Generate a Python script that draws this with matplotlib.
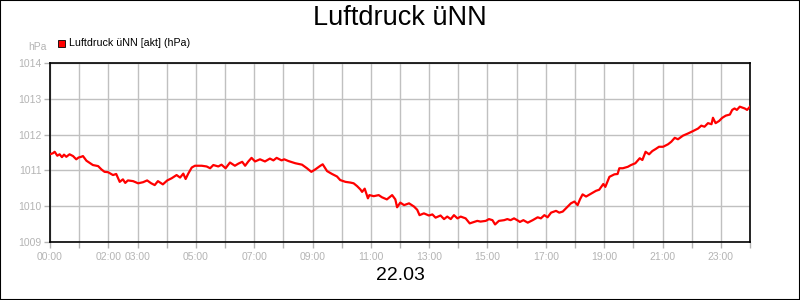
import matplotlib
matplotlib.use("Agg")
import matplotlib.pyplot as plt
from matplotlib.patches import Rectangle

plt.rcParams['font.family'] = ['Liberation Sans', 'DejaVu Sans']

# ---- data ----
hours = [0.00, 0.10, 0.16, 0.25, 0.33, 0.41, 0.48, 0.56, 0.67, 0.79,
         0.90, 0.98, 1.07, 1.13, 1.25, 1.36, 1.47, 1.65, 1.76, 1.87,
         1.99, 2.16, 2.27, 2.39, 2.50, 2.58, 2.67, 2.85, 3.02, 3.19,
         3.33, 3.47, 3.59, 3.70, 3.87, 4.02, 4.17, 4.34, 4.46, 4.57,
         4.65, 4.74, 4.86, 4.97, 5.20, 5.37, 5.49, 5.60, 5.77, 5.88,
         6.02, 6.17, 6.34, 6.46, 6.59, 6.69, 6.80, 6.91, 7.03, 7.20,
         7.37, 7.54, 7.66, 7.77, 7.94, 8.03, 8.18, 8.41, 8.64, 8.81,
         8.96, 9.10, 9.27, 9.35, 9.50, 9.67, 9.84, 9.95, 10.13, 10.30,
         10.41, 10.53, 10.64, 10.70, 10.79, 10.90, 10.95, 11.10, 11.27, 11.38,
         11.55, 11.73, 11.84, 11.90, 12.01, 12.14, 12.31, 12.48, 12.59, 12.67,
         12.82, 12.99, 13.11, 13.22, 13.39, 13.51, 13.62, 13.74, 13.85, 13.97,
         14.08, 14.25, 14.39, 14.50, 14.65, 14.76, 14.94, 15.05, 15.17, 15.26,
         15.39, 15.57, 15.68, 15.79, 15.91, 16.06, 16.11, 16.23, 16.38, 16.55,
         16.72, 16.83, 16.95, 17.06, 17.18, 17.35, 17.46, 17.58, 17.69, 17.86,
         17.98, 18.09, 18.17, 18.26, 18.38, 18.55, 18.72, 18.83, 18.97, 19.04,
         19.18, 19.35, 19.46, 19.52, 19.64, 19.81, 19.92, 20.07, 20.22, 20.31,
         20.42, 20.54, 20.65, 20.77, 20.88, 21.02, 21.19, 21.30, 21.42, 21.53,
         21.70, 21.87, 22.05, 22.22, 22.33, 22.44, 22.56, 22.68, 22.73, 22.82,
         22.94, 23.05, 23.17, 23.31, 23.39, 23.47, 23.55, 23.65, 23.82, 23.90,
         24.00]
pressure = [1011.45, 1011.48, 1011.52, 1011.41, 1011.45, 1011.37, 1011.44, 1011.38, 1011.45, 1011.40,
            1011.31, 1011.36, 1011.38, 1011.40, 1011.27, 1011.21, 1011.15, 1011.12, 1011.03, 1010.96,
            1010.95, 1010.87, 1010.90, 1010.68, 1010.75, 1010.65, 1010.72, 1010.70, 1010.64, 1010.67,
            1010.72, 1010.64, 1010.59, 1010.70, 1010.61, 1010.72, 1010.78, 1010.87, 1010.80, 1010.91,
            1010.76, 1010.91, 1011.08, 1011.13, 1011.13, 1011.11, 1011.06, 1011.15, 1011.11, 1011.16,
            1011.06, 1011.22, 1011.13, 1011.19, 1011.24, 1011.13, 1011.25, 1011.35, 1011.25, 1011.31,
            1011.25, 1011.33, 1011.28, 1011.35, 1011.28, 1011.31, 1011.26, 1011.20, 1011.16, 1011.06,
            1010.96, 1011.03, 1011.13, 1011.17, 1010.98, 1010.90, 1010.83, 1010.73, 1010.68, 1010.66,
            1010.64, 1010.56, 1010.47, 1010.40, 1010.49, 1010.22, 1010.31, 1010.28, 1010.31, 1010.25,
            1010.19, 1010.31, 1010.19, 1009.97, 1010.10, 1010.03, 1010.08, 1009.99, 1009.90, 1009.75,
            1009.80, 1009.74, 1009.77, 1009.68, 1009.74, 1009.64, 1009.71, 1009.64, 1009.75, 1009.66,
            1009.71, 1009.66, 1009.52, 1009.55, 1009.59, 1009.57, 1009.59, 1009.64, 1009.61, 1009.49,
            1009.59, 1009.61, 1009.64, 1009.61, 1009.66, 1009.59, 1009.56, 1009.61, 1009.54, 1009.61,
            1009.69, 1009.66, 1009.75, 1009.69, 1009.82, 1009.87, 1009.82, 1009.85, 1009.94, 1010.08,
            1010.13, 1010.03, 1010.19, 1010.33, 1010.27, 1010.35, 1010.43, 1010.46, 1010.62, 1010.54,
            1010.82, 1010.89, 1010.90, 1011.06, 1011.06, 1011.10, 1011.15, 1011.20, 1011.34, 1011.29,
            1011.52, 1011.45, 1011.54, 1011.60, 1011.66, 1011.66, 1011.73, 1011.80, 1011.91, 1011.87,
            1011.97, 1012.03, 1012.10, 1012.17, 1012.25, 1012.22, 1012.32, 1012.29, 1012.47, 1012.32,
            1012.38, 1012.47, 1012.53, 1012.56, 1012.69, 1012.73, 1012.69, 1012.78, 1012.73, 1012.69,
            1012.78]
label_hours = [0, 2, 3, 5, 7, 9, 11, 13, 15, 17, 19, 21, 23]
y_ticks = [1009, 1010, 1011, 1012, 1013, 1014]
title = "Luftdruck üNN"
series_name = "Luftdruck üNN [akt] (hPa)"
unit = "hPa"
date_label = "22.03"

# ---- figure ----
fig = plt.figure(figsize=(8, 3), dpi=100)
fig.patches.append(Rectangle((0, 0), 1, 1, transform=fig.transFigure,
                             fill=False, edgecolor='black', linewidth=1.5))
ax = fig.add_axes([50/800, 58/300, 700/800, 179/300])

grey = '#b4b4b4'
ax.plot(hours, pressure, color='#ff0000', linewidth=1.6, zorder=3)

ax.set_xlim(0, 24)
ax.set_ylim(1009, 1014)
ax.set_xticks(range(0, 25))
ax.set_xticklabels([f"{h:02d}:00" if h in label_hours else "" for h in range(0, 25)])
ax.set_yticks(y_ticks)
ax.set_yticklabels([str(v) for v in y_ticks])
ax.grid(True, color='#c0c0c0', linewidth=1)
ax.set_axisbelow(True)
ax.tick_params(axis='both', colors=grey, labelcolor=grey, labelsize=7.5,
               length=4, width=1, direction='out')
ax.tick_params(axis='x', pad=3)
ax.tick_params(axis='y', pad=2)
for s in ax.spines.values():
    s.set_color('black')
    s.set_linewidth(1.2)

fig.text(0.5, 1 - 18/300, title, ha='center', va='center', fontsize=19.5, color='black')
fig.text(0.5, 1 - 275/300, date_label, ha='center', va='center', fontsize=14, color='black')
fig.text(47/800, 1 - 47/300, unit, ha='right', va='center', fontsize=7.5, color=grey)
fig.patches.append(Rectangle((58/800, 1 - 47/300), 7/800, 7/300, transform=fig.transFigure,
                             facecolor='#ff0000', edgecolor='black', linewidth=0.6))
fig.text(69/800, 1 - 43.5/300, series_name, ha='left', va='center', fontsize=7.7, color='black')

fig.savefig('out.png', dpi=100)
